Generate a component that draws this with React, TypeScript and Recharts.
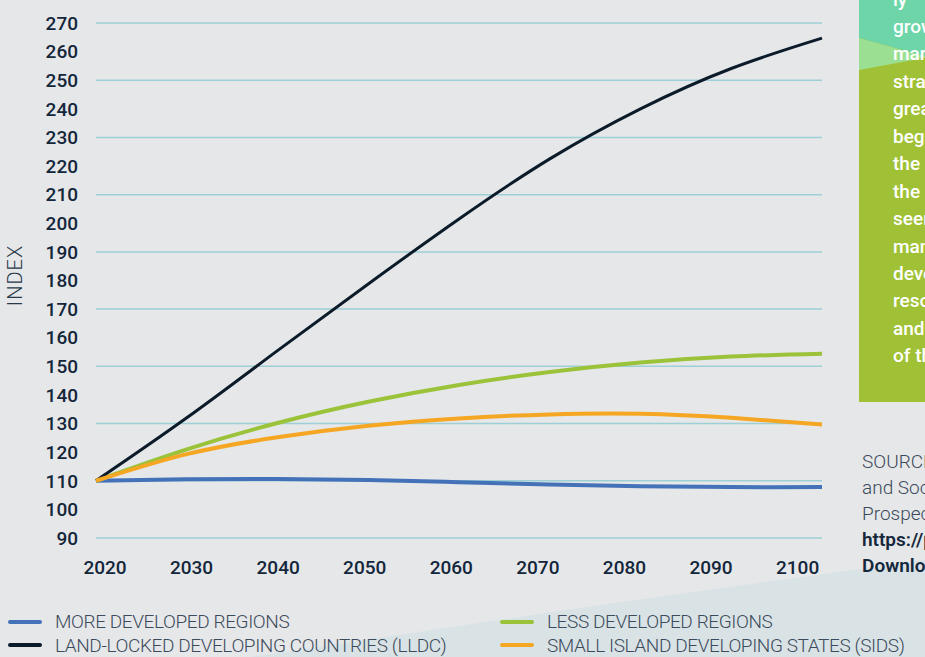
import { LineChart, Line, XAxis, YAxis, CartesianGrid } from 'recharts'

const years = [2020, 2030, 2040, 2050, 2060, 2070, 2080, 2090, 2100]
const moreDeveloped = [110, 110.5, 110.6, 110.3, 109.5, 108.7, 108.1, 107.8, 107.8]
const lessDeveloped = [110, 121, 130.2, 137.6, 143.5, 148, 151.3, 153.4, 154.4]
const lldc = [110, 132, 155.5, 178.8, 201.5, 222.5, 240, 254.1, 264.7]
const sids = [110, 119.3, 125.2, 129.2, 131.8, 133.2, 133.4, 132, 129.7]

const yTicks = [90, 100, 110, 120, 130, 140, 150, 160, 170, 180, 190, 200, 210, 220, 230, 240, 250, 260, 270]
const gridValues = [90, 110, 130, 150, 170, 190, 210, 230, 250, 270]

const series = [
  { key: 'more', name: 'MORE DEVELOPED REGIONS', color: '#4472b9', width: 4 },
  { key: 'less', name: 'LESS DEVELOPED REGIONS', color: '#9bc33a', width: 4 },
  { key: 'lldc', name: 'LAND-LOCKED DEVELOPING COUNTRIES (LLDC)', color: '#0c1b2a', width: 3 },
  { key: 'sids', name: 'SMALL ISLAND DEVELOPING STATES (SIDS)', color: '#f5a623', width: 4 },
]

const data = years.map((year, i) => ({
  year,
  more: moreDeveloped[i],
  less: lessDeveloped[i],
  lldc: lldc[i],
  sids: sids[i],
}))

const boxLines = ['ly', 'growth', 'markedly', 'straight', 'greater', 'beginning', 'the', 'the', 'seen', 'many', 'developing', 'resources', 'and', 'of the']

const tickStyle = { fill: '#13263a', fontSize: 19, fontWeight: 500, fontFamily: 'Roboto' }

// year labels in the original sit a bit tighter than the plotted years
const PLOT_LEFT = 96
const LABEL_SPREAD = 0.954
const LABEL_SHIFT = 9

function YearTick({ x, y, payload }: any) {
  const lx = PLOT_LEFT + (x - PLOT_LEFT) * LABEL_SPREAD + LABEL_SHIFT
  return (
    <text x={lx} y={y} dy="0.71em" textAnchor="middle" {...tickStyle}>
      {payload.value}
    </text>
  )
}

function IndexLabel({ viewBox }: any) {
  const cx = viewBox.x + 15
  const cy = viewBox.y + viewBox.height / 2 - 5
  return (
    <text
      x={cx}
      y={cy}
      transform={`rotate(-90, ${cx}, ${cy})`}
      textAnchor="middle"
      dominantBaseline="central"
      fill="#2a3a4a"
      fontSize={20}
      fontWeight={300}
      fontFamily="Roboto"
      letterSpacing={1}
    >
      INDEX
    </text>
  )
}

export default function App() {
  // legend is two columns: more/lldc on the left, less/sids on the right
  const legendCols = [[series[0], series[2]], [series[1], series[3]]]

  return (
    <div style={{ position: 'fixed', left: 0, top: 0, width: 925, height: 657, overflow: 'hidden', background: '#e6e7e9', fontFamily: 'Roboto' }}>
      <svg width={925} height={657} style={{ position: 'absolute', left: 0, top: 0 }}>
        <polygon points="250,657 600,605 925,560 925,657" fill="#d9e3e6" />
      </svg>

      <div style={{ position: 'absolute', left: 859, top: 0, width: 80, height: 402, background: '#a0c136', overflow: 'hidden' }}>
        <svg width={80} height={80} style={{ position: 'absolute', left: 0, top: 0 }}>
          <polygon points="0,0 80,0 80,60 0,38" fill="#6dd5a8" />
          <polygon points="0,38 80,60 80,55 0,70" fill="#9bdf92" />
        </svg>
        <div style={{ position: 'absolute', left: 34, top: -14.5, color: '#fff', fontSize: 19, fontWeight: 500, lineHeight: '27.45px', whiteSpace: 'nowrap' }}>
          {boxLines.map((t, i) => <div key={i}>{t}</div>)}
        </div>
      </div>

      <div style={{ position: 'absolute', left: 862, top: 449, fontSize: 19, lineHeight: '26px', whiteSpace: 'nowrap' }}>
        <div style={{ color: '#3b4a59', fontWeight: 300 }}>SOURCE: United Nations, Department of Economic</div>
        <div style={{ color: '#3b4a59', fontWeight: 300 }}>and Social Affairs, Population Division (2019)</div>
        <div style={{ color: '#3b4a59', fontWeight: 300 }}>Prospects 2019</div>
        <div style={{ color: '#14273b', fontWeight: 600 }}>https://population.un.org/wpp/</div>
        <div style={{ color: '#14273b', fontWeight: 600 }}>Download/Standard/Population/</div>
      </div>

      <LineChart
        width={925}
        height={600}
        data={data}
        margin={{ top: 23, right: 103, bottom: 22, left: 0 }}
        style={{ position: 'absolute', left: 0, top: 0 }}
      >
        <CartesianGrid vertical={false} horizontalValues={gridValues} stroke="#9ccfd6" strokeWidth={1.5} />
        <XAxis
          type="number"
          dataKey="year"
          domain={[2020, 2100]}
          ticks={years}
          interval={0}
          axisLine={false}
          tickLine={false}
          tickSize={0}
          tickMargin={23}
          height={40}
          tick={<YearTick />}
        />
        <YAxis
          type="number"
          domain={[90, 270]}
          ticks={yTicks}
          interval={0}
          width={96}
          axisLine={false}
          tickLine={false}
          tickSize={0}
          tickMargin={18}
          tick={tickStyle}
          label={<IndexLabel />}
        />
        {series.map((s) => (
          <Line
            key={s.key}
            type="natural"
            dataKey={s.key}
            stroke={s.color}
            strokeWidth={s.width}
            dot={false}
            isAnimationActive={false}
          />
        ))}
      </LineChart>

      {legendCols.map((col, ci) => (
        <div key={ci} style={{ position: 'absolute', left: ci === 0 ? 8 : 500, top: 610 }}>
          {col.map((s) => (
            <div key={s.key} style={{ display: 'flex', alignItems: 'center', height: 23.5 }}>
              <div style={{ width: 34, height: 4, borderRadius: 2, background: s.color, marginRight: 13 }} />
              <span style={{ color: '#3c4b5b', fontSize: 19, fontWeight: 300, letterSpacing: -0.4, whiteSpace: 'nowrap' }}>{s.name}</span>
            </div>
          ))}
        </div>
      ))}
    </div>
  )
}
